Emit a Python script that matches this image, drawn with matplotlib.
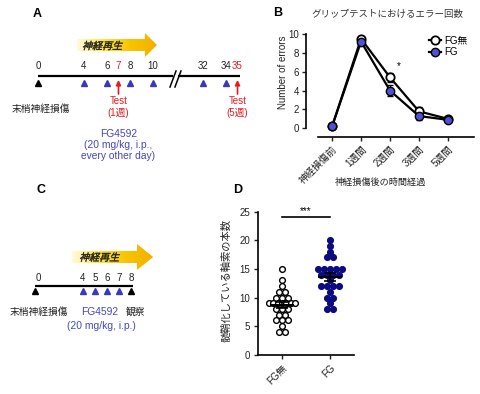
import numpy as np
import matplotlib
matplotlib.use('Agg')
import matplotlib.pyplot as plt
from matplotlib.colors import LinearSegmentedColormap
from matplotlib.patches import Polygon, PathPatch
from matplotlib.textpath import TextPath
from matplotlib.font_manager import FontProperties
from matplotlib.transforms import Affine2D, ScaledTranslation

plt.rcParams['font.family'] = ['Liberation Sans', 'Noto Sans CJK JP']

# ---------- データ ----------
# A: 投与スケジュール (日)
a_days = [0, 4, 6, 8, 10, 32, 34]
a_inject = [4, 6, 8, 10, 32, 34]
a_tests = [7, 35]
a_test_labels = ['Test\n(1週)', 'Test\n(5週)']

# C: 投与スケジュール (日)
c_days = [0, 4, 5, 6, 7, 8]
c_inject = [4, 5, 6, 7]
c_black = [0, 8]

# B: グリップテストのエラー回数
b_labels = ['神経損傷前', '1週間', '2週間', '3週間', '5週間']
b_ctrl = [0.2, 9.5, 5.4, 1.8, 1.0]
b_ctrl_err = [0.1, 0.25, 0.5, 0.45, 0.15]
b_fg = [0.2, 9.2, 4.0, 1.3, 0.9]
b_fg_err = [0.1, 0.2, 0.6, 0.45, 0.15]

# D: 髄鞘化している軸索の本数
d_labels = ['FG無', 'FG']
d_ctrl = [15, 13, 12, 11, 11, 10, 10, 10, 9, 9, 9, 9, 9, 9, 9,
          8, 8, 8, 7, 7, 6, 6, 6, 5, 4, 4]
d_fg = [20, 19, 18, 17, 17, 15, 15, 15, 15, 15, 14, 14, 14, 14, 13,
        12, 12, 12, 12, 11, 10, 10, 9, 8, 8]

RED = '#e8191e'
BLUE = '#3a3ab8'
BLUE_TXT = '#4646c0'
FG_B = '#5050d4'
FG_D = '#0c0c80'

W, H = 481, 394
fig = plt.figure(figsize=(W / 100, H / 100), dpi=100)


def px_axes(x0, y0, x1, y1):
    return fig.add_axes([x0 / W, 1 - y1 / H, (x1 - x0) / W, (y1 - y0) / H])


arrow_cmap = LinearSegmentedColormap.from_list('arr', ['#fffbe0', '#ffe640', '#f8c400', '#f2b000'])


def grad_arrow(ax, x0, xh, x1, yc, bh, hh):
    xl, yl = ax.get_xlim(), ax.get_ylim()
    pts = [(x0, yc - bh / 2), (xh, yc - bh / 2), (xh, yc - hh / 2), (x1, yc),
           (xh, yc + hh / 2), (xh, yc + bh / 2), (x0, yc + bh / 2)]
    poly = Polygon(pts, closed=True, facecolor='none', edgecolor='none')
    ax.add_patch(poly)
    grad = np.linspace(0, 1, 256).reshape(1, -1)
    im = ax.imshow(grad, cmap=arrow_cmap, extent=(x0, x1, yc + hh / 2, yc - hh / 2),
                   aspect='auto', interpolation='bilinear')
    im.set_clip_path(poly)
    ax.set_xlim(xl)
    ax.set_ylim(yl)


def slanted(ax, x, y, s, size=10):
    tp = TextPath((0, 0), s, size=size, prop=FontProperties(family='Noto Sans CJK JP'))
    bb = tp.get_extents()
    tr = (Affine2D().translate(-(bb.x0 + bb.x1) / 2, -(bb.y0 + bb.y1) / 2).skew_deg(15, 0)
          + ScaledTranslation(x, y, ax.transData))
    ax.add_artist(PathPatch(tp, transform=tr, facecolor='#1a1a1a', edgecolor='#1a1a1a', lw=0.3))


# ---------- A ----------
axA = px_axes(0, 20, 260, 170)
axA.set_xlim(-38 / 11.5, 222 / 11.5)
axA.set_ylim(170, 20)
axA.axis('off')


def a_pos(d):
    return d if d < 20 else d - 32 + 14.35


grad_arrow(axA, 3.4, 9.3, 10.35, 45, 12, 24)
slanted(axA, 5.65, 45.5, '神経再生')

axA.plot([a_pos(0), 11.75], [76, 76], color='black', lw=1.6, solid_capstyle='butt')
axA.plot([12.17, a_pos(35) + 0.2], [76, 76], color='black', lw=1.6, solid_capstyle='butt')
axA.plot([11.48, 12.0], [87, 71], color='black', lw=1.1)
axA.plot([11.91, 12.43], [87, 71], color='black', lw=1.1)

for d in a_days:
    axA.text(a_pos(d), 66, str(d), ha='center', va='center', fontsize=7, color='#222')
for d in a_tests:
    axA.text(a_pos(d), 66, str(d), ha='center', va='center', fontsize=7, color=RED)
axA.plot([a_pos(d) for d in a_inject], [83] * len(a_inject), ls='none', marker='^',
         ms=5, color=BLUE)
axA.plot([a_pos(0)], [83], ls='none', marker='^', ms=5, color='black')
for d, lab in zip(a_tests, a_test_labels):
    axA.annotate('', xy=(a_pos(d), 80), xytext=(a_pos(d), 94),
                 arrowprops=dict(arrowstyle='-|>', color=RED, lw=1.2, mutation_scale=7,
                                 shrinkA=0, shrinkB=0))
    axA.text(a_pos(d), 107, lab, ha='center', va='center', fontsize=7, color=RED,
             linespacing=1.15)
axA.text(a_pos(0) + 0.25, 109, '末梢神経損傷', ha='center', va='center', fontsize=7, color='#222')
axA.text(a_pos(7), 145, 'FG4592\n(20 mg/kg, i.p.,\nevery other day)', ha='center',
         va='center', fontsize=7.4, color=BLUE_TXT, linespacing=1.15)

# ---------- C ----------
axC = px_axes(0, 230, 240, 340)
axC.set_xlim(-35 / 12, 205 / 12)
axC.set_ylim(340, 230)
axC.axis('off')

grad_arrow(axC, 3.1, 8.5, 9.85, 257, 12, 26)
slanted(axC, 5.42, 257, '神経再生')

axC.plot([0, 8.15], [286, 286], color='black', lw=1.6, solid_capstyle='butt')
for d in c_days:
    axC.text(d + (0.3 if d == 0 else 0), 278, str(d), ha='center', va='center',
             fontsize=7, color='#222')
axC.plot(c_inject, [291] * len(c_inject), ls='none', marker='^', ms=5, color=BLUE)
axC.plot(c_black, [291] * len(c_black), ls='none', marker='^', ms=5, color='black')
axC.text(0.3, 312, '末梢神経損傷', ha='center', va='center', fontsize=7, color='#222')
axC.text(5.42, 312, 'FG4592', ha='center', va='center', fontsize=7.4, color=BLUE_TXT)
axC.text(8.33, 312, '観察', ha='center', va='center', fontsize=7, color='#222')
axC.text(5.5, 326, '(20 mg/kg, i.p.)', ha='center', va='center', fontsize=7.4, color=BLUE_TXT)

# ---------- B ----------
axB = px_axes(306, 29, 474, 137)
xb = np.arange(len(b_labels))
axB.errorbar(xb, b_ctrl, yerr=b_ctrl_err, fmt='none', ecolor='black', elinewidth=1,
             capsize=2.5, capthick=1, zorder=2)
axB.errorbar(xb, b_fg, yerr=b_fg_err, fmt='none', ecolor='black', elinewidth=1,
             capsize=2.5, capthick=1, zorder=2)
l1, = axB.plot(xb, b_ctrl, color='black', lw=1.6, marker='o', ms=6, mfc='white',
               mec='black', mew=1.3, zorder=3, clip_on=False)
l2, = axB.plot(xb, b_fg, color='black', lw=1.6, marker='o', ms=6, mfc=FG_B,
               mec='black', mew=1.0, zorder=4, clip_on=False)
axB.set_xlim(-0.9, 4.9)
axB.set_ylim(-0.92, 10.53)
axB.spines[['top', 'right']].set_visible(False)
axB.spines['left'].set_bounds(0, 10)
axB.spines['bottom'].set_bounds(-0.5, 4.9)
for s in ['left', 'bottom']:
    axB.spines[s].set_linewidth(1.2)
axB.set_yticks(range(0, 11, 2))
axB.set_xticks(xb, b_labels, rotation=45, ha='right', rotation_mode='anchor')
axB.tick_params(labelsize=7, length=3, width=1, pad=2, colors='#222')
axB.text(2.3, 6.6, '*', ha='center', va='center', fontsize=7)
fig.legend([l1, l2], ['FG無', 'FG'], loc='upper left', bbox_to_anchor=(427 / W, 1 - 33 / H),
           frameon=False, fontsize=7, handlelength=1.2, handletextpad=0.4,
           labelspacing=0.25, borderpad=0.2, borderaxespad=0)
fig.text(283 / W, 1 - 72 / H, 'Number of errors', rotation=90, ha='center', va='center',
         fontsize=7, color='#222')
fig.text(380 / W, 1 - 182 / H, '神経損傷後の時間経過', ha='center', va='center',
         fontsize=6.6, color='#222')
fig.text(387 / W, 1 - 15 / H, 'グリップテストにおけるエラー回数', ha='center', va='center',
         fontsize=6.8, color='#333')

# ---------- D ----------
axD = px_axes(258, 211.7, 354, 354.7)


def swarm(vals):
    vals = np.asarray(vals, dtype=float)
    off = np.zeros(len(vals))
    for v in np.unique(vals):
        idx = np.where(vals == v)[0]
        n = len(idx)
        step = 0.13 if n < 2 else min(0.13, 0.55 / (n - 1))
        off[idx] = (np.arange(n) - (n - 1) / 2) * step
    return off


for i, (vals, fc, ec) in enumerate([(d_ctrl, 'white', 'black'), (d_fg, FG_D, FG_D)]):
    v = np.asarray(vals, dtype=float)
    axD.scatter(i + swarm(v), v, s=17, facecolor=fc, edgecolor=ec, lw=1.0, zorder=3,
                clip_on=False)
    m = v.mean()
    sem = v.std(ddof=1) / np.sqrt(len(v))
    axD.hlines(m, i - 0.25, i + 0.25, color='black', lw=1.4, zorder=4)
    axD.errorbar(i, m, yerr=sem, fmt='none', ecolor='black', elinewidth=1.2,
                 capsize=4, capthick=1.2, zorder=4)

axD.set_xlim(-0.5, 1.5)
axD.set_ylim(0, 25)
axD.spines[['top', 'right']].set_visible(False)
for s in ['left', 'bottom']:
    axD.spines[s].set_linewidth(1.2)
axD.set_yticks(range(0, 26, 5))
axD.set_xticks([0, 1], d_labels, rotation=45, ha='right', rotation_mode='anchor')
axD.tick_params(labelsize=7, length=3, width=1, pad=2.5, colors='#222')
axD.plot([0, 1], [24.1, 24.1], color='black', lw=1.2, clip_on=False)
axD.text(0.5, 24.3, '***', ha='center', va='bottom', fontsize=7)
fig.text(226 / W, 1 - 281 / H, '髄鞘化している軸索の本数', rotation=90, ha='center',
         va='center', fontsize=7.4, color='#222')

# パネルラベル
for lab, x, y in [('A', 37, 14), ('B', 278, 13), ('C', 41, 190), ('D', 238, 190)]:
    fig.text(x / W, 1 - y / H, lab, ha='center', va='center', fontsize=9, fontweight='bold')

fig.savefig('out.png', dpi=100)
